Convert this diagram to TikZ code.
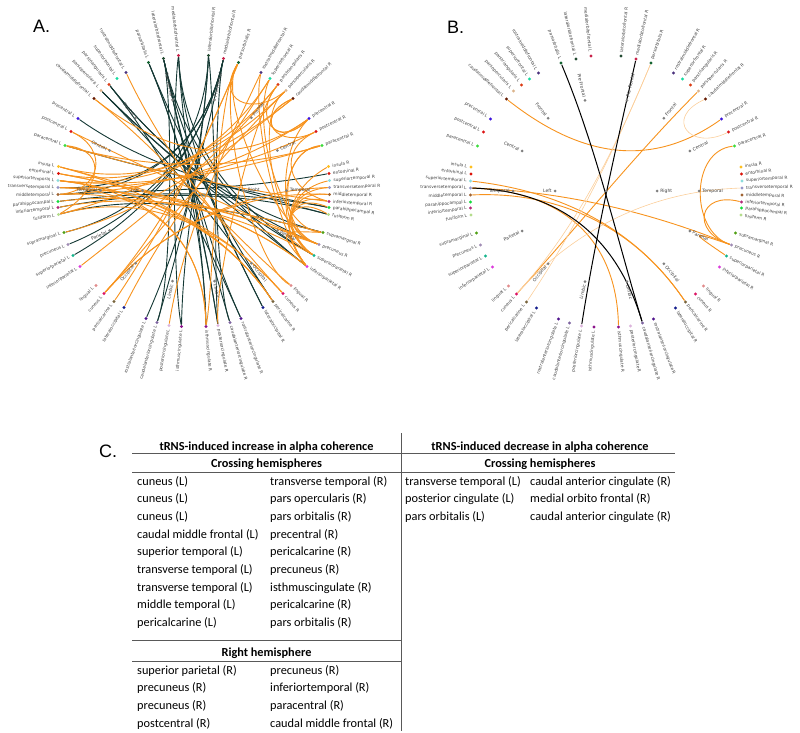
\documentclass[tikz,border=0pt]{standalone}
\usepackage{fontspec}
\setmainfont{Carlito}
\newfontfamily\dejavu{DejaVu Sans}
\newfontfamily\arialf{Liberation Sans}
\usetikzlibrary{calc}
\pgfdeclarelayer{edges}
\pgfsetlayers{edges,main}

\definecolor{incorange}{RGB}{247,147,30}
\definecolor{decteal}{RGB}{20,56,52}
\definecolor{col-parsorbitalis}{RGB}{20,100,50}
\definecolor{col-lateralorbitofrontal}{RGB}{35,75,50}
\definecolor{col-medialorbitofrontal}{RGB}{200,35,75}
\definecolor{col-rostralmiddlefrontal}{RGB}{75,50,125}
\definecolor{col-superiorfrontal}{RGB}{20,220,160}
\definecolor{col-parstriangularis}{RGB}{220,60,20}
\definecolor{col-parsopercularis}{RGB}{220,180,140}
\definecolor{col-caudalmiddlefrontal}{RGB}{100,25,0}
\definecolor{col-precentral}{RGB}{60,20,220}
\definecolor{col-postcentral}{RGB}{220,20,20}
\definecolor{col-paracentral}{RGB}{60,220,60}
\definecolor{col-insula}{RGB}{255,192,32}
\definecolor{col-entorhinal}{RGB}{220,20,10}
\definecolor{col-superiortemporal}{RGB}{140,220,220}
\definecolor{col-transversetemporal}{RGB}{150,150,200}
\definecolor{col-middletemporal}{RGB}{160,100,50}
\definecolor{col-parahippocampal}{RGB}{20,220,60}
\definecolor{col-inferiortemporal}{RGB}{180,40,120}
\definecolor{col-fusiform}{RGB}{180,220,140}
\definecolor{col-supramarginal}{RGB}{80,160,20}
\definecolor{col-precuneus}{RGB}{160,140,180}
\definecolor{col-superiorparietal}{RGB}{20,180,140}
\definecolor{col-inferiorparietal}{RGB}{220,60,220}
\definecolor{col-lingual}{RGB}{225,140,140}
\definecolor{col-cuneus}{RGB}{220,20,100}
\definecolor{col-pericalcarine}{RGB}{120,100,60}
\definecolor{col-lateraloccipital}{RGB}{20,30,140}
\definecolor{col-rostralanteriorcingulate}{RGB}{80,20,140}
\definecolor{col-caudalanteriorcingulate}{RGB}{125,100,160}
\definecolor{col-posteriorcingulate}{RGB}{220,180,220}
\definecolor{col-isthmuscingulate}{RGB}{140,20,140}

% region / left x,y / right x,y / lobe
\def\regionlist{%
parsorbitalis/-45/-128/45/-128/Pre-Frontal,
lateralorbitofrontal/-30/-132/15/-135/Pre-Frontal,
medialorbitofrontal/-15/-135/30/-132/Pre-Frontal,
rostralmiddlefrontal/-67.5/-118/67.5/-118/Frontal,
superiorfrontal/-76.5/-112/76.5/-112/Frontal,
parstriangularis/-84.5/-106/84.5/-106/Frontal,
parsopercularis/-92.5/-100/92.5/-100/Frontal,
caudalmiddlefrontal/-99.5/-92/99.5/-92/Frontal,
precentral/-115.5/-72/115.5/-72/Central,
postcentral/-122.5/-59/122.5/-59/Central,
paracentral/-128.5/-45/128.5/-45/Central,
insula/-135/-24/135/-24/Temporal,
entorhinal/-135/-17/135.5/-17/Temporal,
superiortemporal/-135.5/-10/136/-10/Temporal,
transversetemporal/-135.5/-3/136/-3/Temporal,
middletemporal/-135.5/4/136/4/Temporal,
parahippocampal/-135.5/11/135.5/17/Temporal,
inferiortemporal/-135.5/17/135.5/11/Temporal,
fusiform/-135/24/135/24/Temporal,
supramarginal/-129.5/42/129.5/42/Parietal,
precuneus/-125.5/54/125.5/54/Parietal,
superiorparietal/-120.5/65/120.5/65/Parietal,
inferiorparietal/-113.5/76/113.5/76/Parietal,
lingual/-97.5/95/97.5/95/Occipital,
cuneus/-89.5/103/89.5/103/Occipital,
pericalcarine/-79.5/111/79.5/111/Occipital,
lateraloccipital/-69.5/117/69.5/117/Occipital,
rostralanteriorcingulate/-47.5/128/47.5/128/Limbic,
caudalanteriorcingulate/-36.5/132/36.5/132/Limbic,
posteriorcingulate/-24.5/135/24.5/135/Limbic,
isthmuscingulate/-12/136/12.5/136/Limbic}

% bundled links: across hemispheres, and inside one hemisphere
\newcommand{\xlink}[3]{\draw[#1] (#2) .. controls (#2-h) and (#3-h) .. (#3);}
\newcommand{\hlink}[3]{\draw[#1] (#2) .. controls (#2-g) and (#3-g) .. (#3);}

\begin{document}
\begin{tikzpicture}[x=1pt,y=-1pt,
  regdot/.style={circle,inner sep=0pt,minimum size=3.4pt},
  grpdot/.style={circle,fill=black!50,inner sep=0pt,minimum size=3pt},
  regtext/.style={font=\dejavu\fontsize{4.3}{5}\selectfont,text=black!75,inner sep=0.6pt},
  grptext/.style={font=\dejavu\fontsize{4.5}{5}\selectfont,text=black!75,inner sep=0.6pt},
  panel/.style={font=\arialf\fontsize{18}{18}\selectfont,anchor=base west,inner sep=0pt},
  incA/.style={draw=incorange,line width=0.9pt},
  decA/.style={draw=decteal,line width=0.9pt},
  incB/.style={draw=incorange,line width=0.9pt},
  lightB/.style={draw=incorange!45,line width=0.6pt},
  decB/.style={draw=black,line width=1pt},
  cell/.style={font=\fontsize{12.3}{14}\selectfont,anchor=base west,inner sep=0pt},
  head/.style={font=\bfseries\fontsize{12.3}{14}\selectfont,anchor=base,inner sep=0pt},
  rule/.style={draw=black!65,line width=0.7pt}]
\useasboundingbox (0,0) rectangle (800,732);

% panels A and B
\foreach \p/\cx/\cy in {a/193.5/190.5,b/606/191}{
\begin{scope}[shift={(\cx,\cy)}]
  \node[grpdot] (\p-root) at (0,0) {};
  \node[grpdot] (\p L-hemi) at (180:51pt) {};
  \path (\p L-hemi) ++(180:2.5pt) node[grptext,anchor=east] (\p L-hemi-t) {Left};
  \node[grpdot] (\p R-hemi) at (0:51pt) {};
  \path (\p R-hemi) ++(0:2.5pt) node[grptext,anchor=west] (\p R-hemi-t) {Right};
  \foreach \g/\ga in {Pre-Frontal/103,Frontal/128.5,Central/154.5,Temporal/180,Parietal/205.5,Occipital/231.5,Limbic/257}{
    \pgfmathsetmacro\gl{\ga-180}
    \pgfmathsetmacro\gr{180-\ga}
    \node[grpdot] (\p L-\g) at (\ga:93pt) {};
    \path (\p L-\g) ++(\ga:2.5pt) node[grptext,anchor=east,rotate=\gl] (\p L-\g-t) {\g};
    \node[grpdot] (\p R-\g) at (\gr:93pt) {};
    \path (\p R-\g) ++(\gr:2.5pt) node[grptext,anchor=west,rotate=\gr] (\p R-\g-t) {\g};
  }
  \foreach \reg/\xl/\yl/\xr/\yr/\g in \regionlist{
    \pgfmathsetmacro\angl{atan2(-1*(\yl),\xl)}
    \pgfmathsetmacro\rotl{atan2(\yl,-1*(\xl))}
    \pgfmathsetmacro\angr{atan2(-1*(\yr),\xr)}
    \node[regdot,fill=col-\reg] (\p L\reg) at (\xl,\yl) {};
    \path (\p L\reg) ++(\angl:3.2pt) node[regtext,anchor=east,rotate=\rotl] (\p L\reg-t) {\reg\ L};
    \coordinate (\p L\reg-g) at (\p L-\g);
    \coordinate (\p L\reg-h) at ($(\p L-\g)!0.5!(\p-root)$);
    \node[regdot,fill=col-\reg] (\p R\reg) at (\xr,\yr) {};
    \path (\p R\reg) ++(\angr:3.2pt) node[regtext,anchor=west,rotate=\angr] (\p R\reg-t) {\reg\ R};
    \coordinate (\p R\reg-g) at (\p R-\g);
    \coordinate (\p R\reg-h) at ($(\p R-\g)!0.5!(\p-root)$);
  }
\end{scope}
}

\node[panel] (labA) at (33,32) {A.};
\node[panel] (labB) at (447,33) {B.};
\node[panel] (labC) at (99,457) {C.};

\begin{pgfonlayer}{edges}
% A: decrease
\foreach \ra/\rb in {parsorbitalis/isthmuscingulate,parsorbitalis/posteriorcingulate,parsorbitalis/pericalcarine,
  lateralorbitofrontal/caudalanteriorcingulate,lateralorbitofrontal/rostralanteriorcingulate,lateralorbitofrontal/lateraloccipital,
  medialorbitofrontal/isthmuscingulate,medialorbitofrontal/superiorparietal,lateralorbitofrontal/inferiorparietal,
  caudalanteriorcingulate/lateralorbitofrontal,supramarginal/lateralorbitofrontal,precuneus/medialorbitofrontal,
  superiorparietal/medialorbitofrontal,rostralanteriorcingulate/medialorbitofrontal,transversetemporal/medialorbitofrontal,
  middletemporal/medialorbitofrontal,parstriangularis/supramarginal,parstriangularis/precuneus,
  parsopercularis/inferiorparietal,parsopercularis/superiorparietal,precentral/fusiform,paracentral/parahippocampal,
  middletemporal/entorhinal,inferiortemporal/fusiform,parahippocampal/parahippocampal,fusiform/supramarginal,
  isthmuscingulate/lateralorbitofrontal,lateralorbitofrontal/posteriorcingulate,parstriangularis/rostralanteriorcingulate,
  medialorbitofrontal/lateraloccipital,parsopercularis/pericalcarine}
  {\xlink{decA}{aL\ra}{aR\rb}}
\hlink{decA}{aLmedialorbitofrontal}{aListhmuscingulate}
\hlink{decA}{aLlateralorbitofrontal}{aLcaudalanteriorcingulate}
\hlink{decA}{aRmedialorbitofrontal}{aRposteriorcingulate}
\hlink{decA}{aRlateralorbitofrontal}{aRcaudalanteriorcingulate}
% A: increase
\foreach \ra/\rb in {rostralmiddlefrontal/cuneus,caudalmiddlefrontal/precentral,caudalmiddlefrontal/lingual,
  postcentral/precuneus,paracentral/inferiortemporal,paracentral/paracentral,insula/parsopercularis,
  entorhinal/inferiorparietal,superiortemporal/pericalcarine,transversetemporal/precuneus,
  transversetemporal/isthmuscingulate,middletemporal/pericalcarine,parahippocampal/superiorparietal,
  inferiortemporal/supramarginal,fusiform/cuneus,superiortemporal/caudalmiddlefrontal,middletemporal/precentral,
  supramarginal/caudalmiddlefrontal,inferiorparietal/parstriangularis,cuneus/transversetemporal,
  cuneus/parsopercularis,cuneus/parsorbitalis,pericalcarine/parsorbitalis,lateraloccipital/superiorfrontal,
  posteriorcingulate/rostralmiddlefrontal,superiortemporal/paracentral,transversetemporal/postcentral,
  insula/inferiorparietal,entorhinal/precuneus,cuneus/middletemporal,superiortemporal/cuneus,
  insula/pericalcarine,superiortemporal/isthmuscingulate,entorhinal/parstriangularis,fusiform/superiorfrontal}
  {\xlink{incA}{aL\ra}{aR\rb}}
\foreach \ra/\rb in {parsorbitalis/precuneus,rostralmiddlefrontal/inferiorparietal,superiorfrontal/supramarginal,
  parstriangularis/precentral,parsopercularis/superiorparietal,caudalmiddlefrontal/postcentral,
  caudalmiddlefrontal/precentral,parsorbitalis/parsopercularis,precentral/superiorparietal,
  postcentral/inferiortemporal,paracentral/precuneus,paracentral/inferiorparietal,insula/inferiorparietal,
  superiortemporal/precuneus,transversetemporal/superiorparietal,middletemporal/inferiorparietal,
  inferiortemporal/precuneus,parahippocampal/superiorparietal,fusiform/inferiorparietal,
  superiorparietal/precuneus,supramarginal/inferiorparietal,lingual/parsorbitalis,
  isthmuscingulate/parsorbitalis,posteriorcingulate/parstriangularis}
  {\hlink{incA}{aR\ra}{aR\rb}}
\hlink{incA}{aLpostcentral}{aLmiddletemporal}
\hlink{incA}{aLparacentral}{aLfusiform}
% B: increase
\foreach \ra/\rb in {caudalmiddlefrontal/precentral,cuneus/parsopercularis,superiortemporal/pericalcarine,
  transversetemporal/precuneus,transversetemporal/isthmuscingulate,middletemporal/pericalcarine}
  {\xlink{incB}{bL\ra}{bR\rb}}
\foreach \ra/\rb in {cuneus/transversetemporal,cuneus/parsorbitalis,pericalcarine/parsorbitalis}
  {\xlink{lightB}{bL\ra}{bR\rb}}
\hlink{incB}{bRsuperiorparietal}{bRprecuneus}
\hlink{incB}{bRprecuneus}{bRinferiortemporal}
\hlink{incB}{bRparacentral}{bRprecuneus}
\hlink{lightB}{bRpostcentral}{bRcaudalmiddlefrontal}
% B: decrease
\foreach \ra/\rb in {transversetemporal/caudalanteriorcingulate,posteriorcingulate/medialorbitofrontal,
  parsorbitalis/caudalanteriorcingulate}
  {\xlink{decB}{bL\ra}{bR\rb}}
\end{pgfonlayer}

% C: table
\node[head] (incHead) at (266.5,450) {tRNS-induced increase in alpha coherence};
\node[head] (incCross) at (266.5,467) {Crossing hemispheres};
\node[head] (incRight) at (266.5,656) {Right hemisphere};
\node[head] (decHead) at (540,450) {tRNS-induced decrease in alpha coherence};
\node[head] (decCross) at (540,467) {Crossing hemispheres};
\draw[rule] (132,453) -- (675,453);
\draw[rule] (132,472) -- (675,472);
\draw[rule] (132,640) -- (401,640);
\draw[rule] (132,661) -- (401,661);
\draw[rule] (401,433) -- (401,731);
\foreach \ra/\rb [count=\i from 0] in {cuneus (L)/transverse temporal (R),cuneus (L)/pars opercularis (R),
  cuneus (L)/pars orbitalis (R),caudal middle frontal (L)/precentral (R),superior temporal (L)/pericalcarine (R),
  transverse temporal (L)/precuneus (R),transverse temporal (L)/isthmuscingulate (R),
  middle temporal (L)/pericalcarine (R),pericalcarine (L)/pars orbitalis (R)}{
  \node[cell] (incX\i a) at (137,485+17.7*\i) {\ra};
  \node[cell] (incX\i b) at (270,485+17.7*\i) {\rb};
}
\foreach \ra/\rb [count=\i from 0] in {superior parietal (R)/precuneus (R),precuneus (R)/inferiortemporal (R),
  precuneus (R)/paracentral (R),postcentral (R)/caudal middle frontal (R)}{
  \node[cell] (incR\i a) at (137,674+17.7*\i) {\ra};
  \node[cell] (incR\i b) at (270,674+17.7*\i) {\rb};
}
\foreach \ra/\rb [count=\i from 0] in {transverse temporal (L)/caudal anterior cingulate (R),
  posterior cingulate (L)/medial orbito frontal (R),pars orbitalis (L)/caudal anterior cingulate (R)}{
  \node[cell] (decX\i a) at (405,485+17.7*\i) {\ra};
  \node[cell] (decX\i b) at (530,485+17.7*\i) {\rb};
}
\end{tikzpicture}
\end{document}
